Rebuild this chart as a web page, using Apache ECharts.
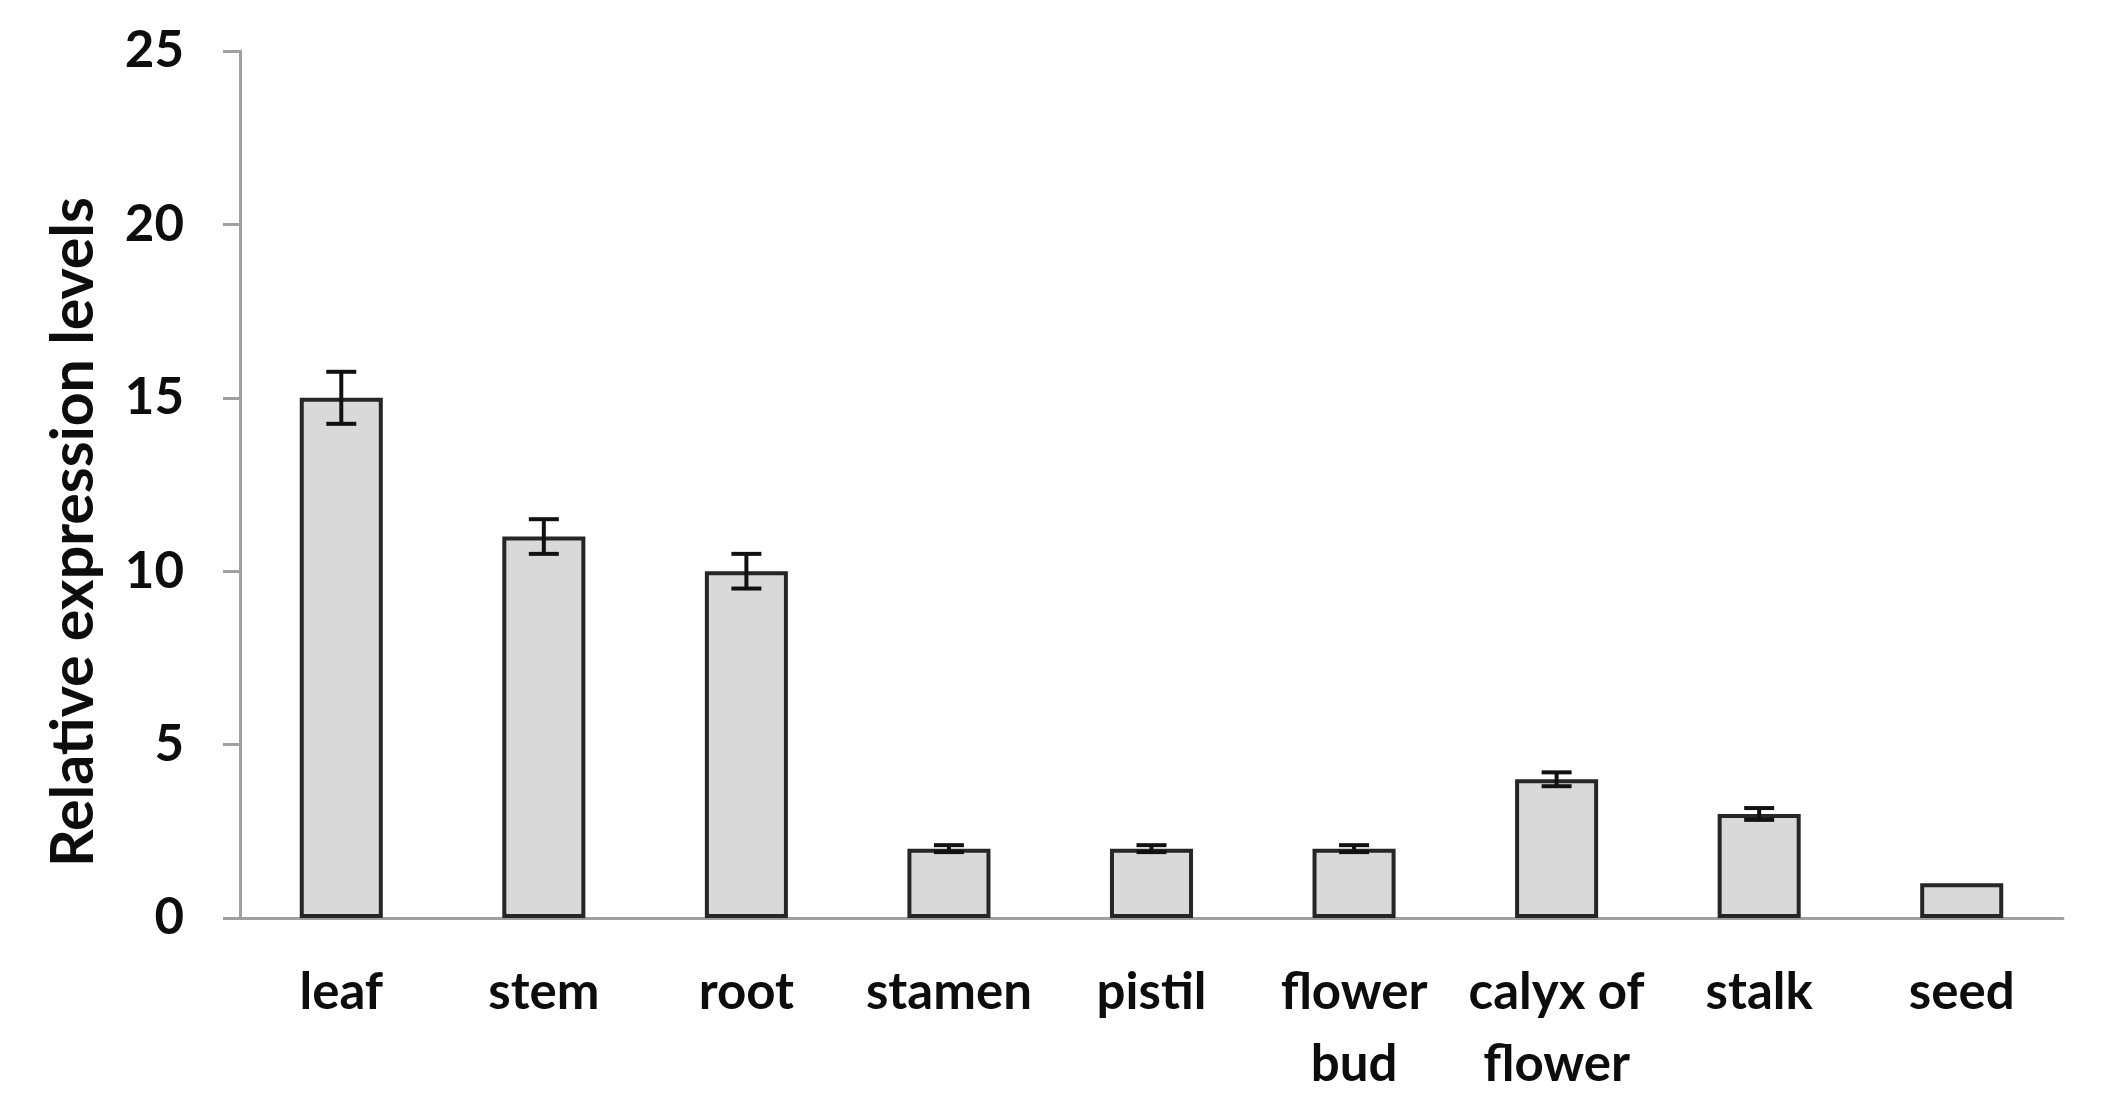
<!DOCTYPE html>
<html>
<head>
<meta charset="utf-8">
<script src="https://cdn.jsdelivr.net/npm/echarts@6/dist/echarts.min.js"></script>
<style>
  html, body { margin: 0; padding: 0; background: #fff; }
  #chart { width: 2101px; height: 1120px; }
</style>
</head>
<body>
<div id="chart"></div>
<script>
  // tissues on the x axis
  const tissues = ['leaf', 'stem', 'root', 'stamen', 'pistil', 'flower\nbud', 'calyx of\nflower', 'stalk', 'seed'];
  // mean relative expression
  const levels = [15, 11, 10, 2, 2, 2, 4, 3, 1];
  // error bar half-length (seed has none)
  const errors = [0.75, 0.5, 0.5, 0.1, 0.1, 0.1, 0.2, 0.17, 0];
  const yTicks = [0, 5, 10, 15, 20, 25];

  const font = 'Lato, "Open Sans", sans-serif';

  // error bar data: [index, high, low]
  const errData = levels.map((v, i) => [i, v + errors[i], v - errors[i]]);

  let myChart = echarts.init(document.getElementById('chart'));
  myChart.setOption({
    backgroundColor: '#fff',
    animation: false,
    grid: { left: 240, right: 38, top: 51, bottom: 202 },
    xAxis: {
      type: 'category',
      data: tissues,
      axisLine: { lineStyle: { color: '#a0a0a0', width: 3 } },
      axisTick: { show: false },
      axisLabel: {
        margin: 39,
        color: '#0d0d0d',
        fontFamily: font,
        fontWeight: 'bold',
        fontSize: 51,
        lineHeight: 72,
        interval: 0
      }
    },
    yAxis: {
      type: 'value',
      min: yTicks[0],
      max: yTicks[yTicks.length - 1],
      interval: 5,
      splitLine: { show: false },
      axisLine: { show: true, lineStyle: { color: '#a0a0a0', width: 3 } },
      axisTick: { show: true, length: 17, lineStyle: { color: '#a0a0a0', width: 3 } },
      axisLabel: {
        margin: 56,
        color: '#0d0d0d',
        fontFamily: font,
        fontWeight: 'bold',
        fontSize: 51
      }
    },
    graphic: [{
      type: 'text',
      x: 74,
      y: 532,
      rotation: Math.PI / 2,
      style: {
        text: 'Relative expression levels',
        fill: '#0d0d0d',
        font: 'bold 59px ' + font,
        textAlign: 'center',
        textVerticalAlign: 'middle'
      }
    }],
    series: [
      {
        type: 'bar',
        data: levels,
        barWidth: '41%',
        itemStyle: { color: '#d9d9d9', borderColor: '#262626', borderWidth: 4 }
      },
      {
        type: 'custom',
        data: errData,
        z: 5,
        renderItem: function (params, api) {
          const hi = api.value(1), lo = api.value(2);
          if (hi === lo) return null;
          const top = api.coord([api.value(0), hi]);
          const bot = api.coord([api.value(0), lo]);
          const hw = 15;
          const st = { stroke: '#111', lineWidth: 4 };
          return {
            type: 'group',
            children: [
              { type: 'line', shape: { x1: top[0], y1: top[1], x2: bot[0], y2: bot[1] }, style: st },
              { type: 'line', shape: { x1: top[0] - hw, y1: top[1], x2: top[0] + hw, y2: top[1] }, style: st },
              { type: 'line', shape: { x1: bot[0] - hw, y1: bot[1], x2: bot[0] + hw, y2: bot[1] }, style: st }
            ]
          };
        }
      }
    ]
  });
</script>
</body>
</html>
